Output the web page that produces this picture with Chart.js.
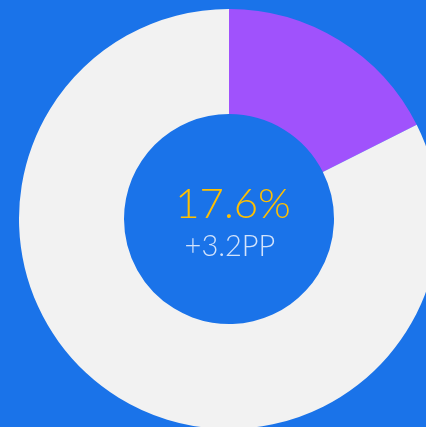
<!DOCTYPE html>
<html>
<head>
<meta charset="utf-8">
<script src="https://cdn.jsdelivr.net/npm/chart.js@4"></script>
<style>
  html, body { margin: 0; padding: 0; width: 426px; height: 427px; overflow: hidden; background: #1a73e9; }
  #wrap { position: absolute; left: 19px; top: 9px; width: 420px; height: 420px; }
</style>
</head>
<body>
<div id="wrap"><canvas id="shareChart"></canvas></div>
<script>
const labels = ['Share', 'Rest'];
const values = [17.6, 82.4];
const headline = '17.6%';
const delta = '+3.2PP';

const centerText = {
    id: 'centerText',
    afterDraw(chart) {
        const { ctx } = chart;
        const meta = chart.getDatasetMeta(0);
        if (!meta || !meta.data.length) return;
        const { x, y } = meta.data[0];
        ctx.save();
        ctx.textAlign = 'center';
        ctx.textBaseline = 'alphabetic';
        ctx.font = '300 42px Lato, sans-serif';
        ctx.fillStyle = '#ffc000';
        ctx.fillText(headline, x + 4, y - 1);
        ctx.font = '300 29px Lato, sans-serif';
        ctx.fillStyle = '#d3e3fb';
        ctx.fillText(delta, x + 1, y + 37);
        ctx.restore();
    },
};

new Chart(document.getElementById('shareChart'), {
    type: 'doughnut',
    plugins: [centerText],
    data: {
        labels: labels,
        datasets: [{
            data: values,
            backgroundColor: ['#a052fc', '#f2f2f2'],
            borderWidth: 0,
        }],
    },
    options: {
        responsive: true,
        maintainAspectRatio: false,
        animation: false,
        cutout: '50%',
        layout: { padding: 0 },
        plugins: { legend: { display: false }, tooltip: { enabled: false } },
    },
});
</script>
</body>
</html>
